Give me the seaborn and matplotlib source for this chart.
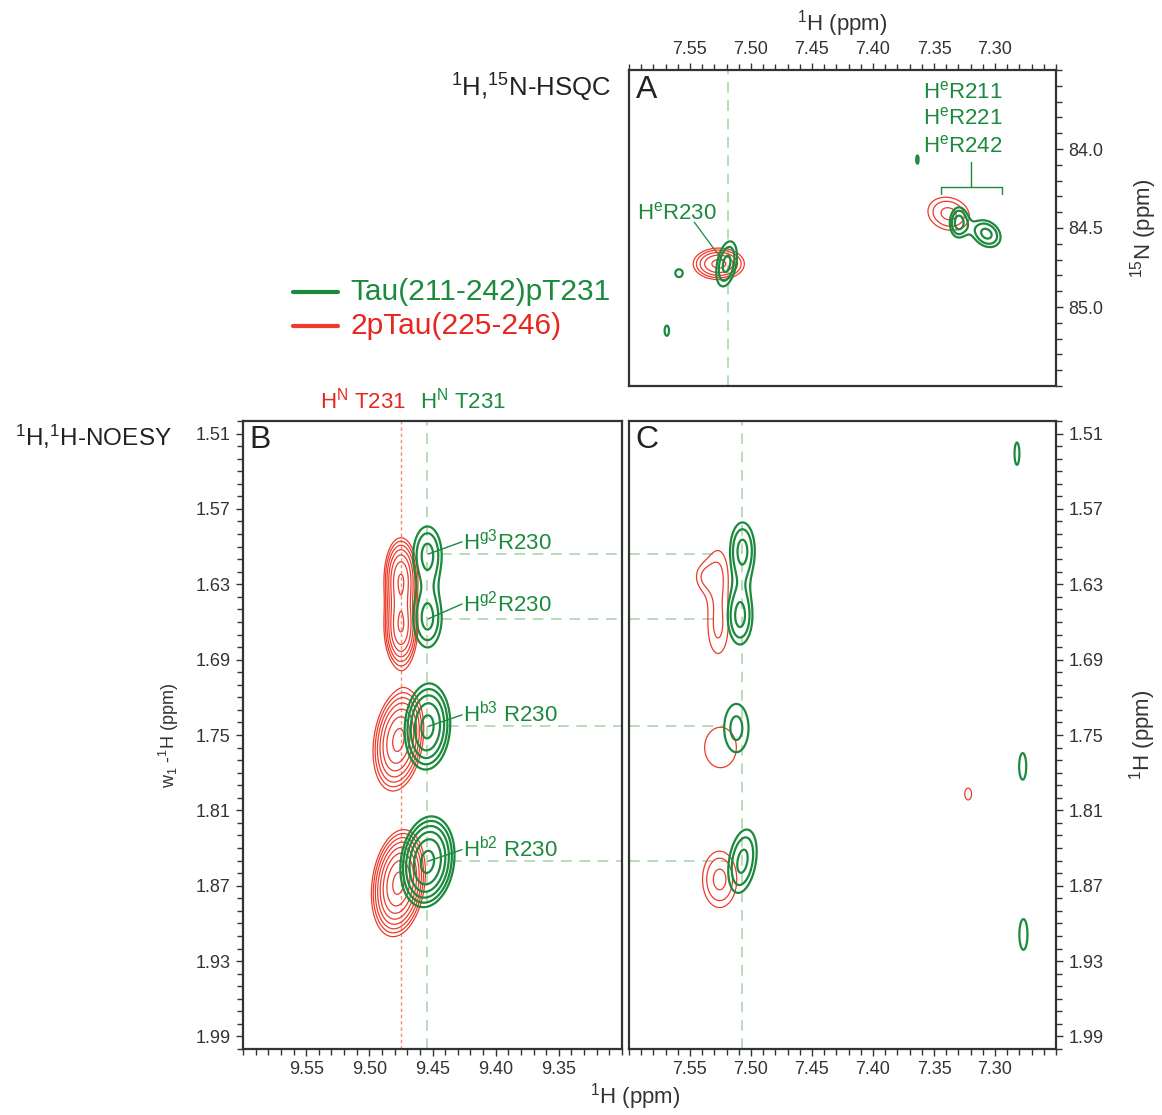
import numpy as np
import pandas as pd
import matplotlib
matplotlib.use("Agg")
import matplotlib.pyplot as plt
from matplotlib.ticker import MultipleLocator, FixedLocator, FormatStrFormatter
import seaborn as sns

# ---------------- contour levels (units of the lowest level) ----------------
CONTOUR_FACTOR = 1.35
N_LEVELS = 12

# ---------------- Panel A : 1H,15N-HSQC  (x: 1H ppm, y: 15N ppm) ----------------
A_green_h   = [7.520, 7.330, 7.307, 7.559, 7.569, 7.3636]
A_green_n   = [84.727, 84.463, 84.536, 84.786, 85.150, 84.067]
A_green_lwh = [0.0072, 0.0059, 0.0098, 0.0050, 0.0030, 0.0016]
A_green_lwn = [0.121, 0.078, 0.072, 0.041, 0.053, 0.043]
A_green_int = [2.0, 2.0, 2.0, 1.2, 1.2, 1.2]
A_green_rho = [0.35, 0.05, -0.25, 0.0, 0.0, 0.0]

A_red_h   = [7.5264, 7.338]
A_red_n   = [84.727, 84.410]
A_red_lwh = [0.013, 0.0144]
A_red_lwn = [0.062, 0.089]
A_red_int = [3.65, 2.0]
A_red_rho = [0.0, -0.15]

# ---------------- Panel B : NOESY, HN T231 strip (x: 1H ppm, y: w1-1H ppm) ----------------
B_green_h   = [9.454, 9.454, 9.454, 9.454]
B_green_w1  = [1.606, 1.6576, 1.7435, 1.851]
B_green_lwh = [0.0094, 0.0094, 0.0112, 0.0120]
B_green_lww = [0.0187, 0.0187, 0.0211, 0.0202]
B_green_int = [2.0, 2.0, 3.65, 4.93]
B_green_rho = [0.0, 0.0, 0.08, 0.15]

B_red_h   = [9.475, 9.475, 9.477, 9.477]
B_red_w1  = [1.625, 1.665, 1.754, 1.868]
B_red_lwh = [0.0070, 0.0070, 0.0103, 0.0102]
B_red_lww = [0.0170, 0.0170, 0.0208, 0.0203]
B_red_int = [5.9, 5.9, 6.66, 8.99]
B_red_rho = [0.0, 0.0, 0.22, 0.2]

# ---------------- Panel C : NOESY, He R230 strip ----------------
C_green_h   = [7.507, 7.509, 7.512, 7.507, 7.282, 7.2773, 7.2767]
C_green_w1  = [1.6028, 1.6557, 1.7445, 1.8505, 1.526, 1.775, 1.9088]
C_green_lwh = [0.0085, 0.0085, 0.0112, 0.0099, 0.0033, 0.0048, 0.0055]
C_green_lww = [0.0187, 0.0187, 0.0216, 0.0214, 0.0147, 0.0175, 0.0202]
C_green_int = [2.0, 2.0, 1.485, 2.0, 1.2, 1.2, 1.2]
C_green_rho = [0.0, 0.0, 0.0, 0.3, 0.0, 0.0, 0.0]

C_red_h   = [7.527, 7.527, 7.541, 7.525, 7.5257, 7.322]
C_red_w1  = [1.620, 1.668, 1.624, 1.760, 1.865, 1.797]
C_red_lwh = [0.0095, 0.0095, 0.0070, 0.0215, 0.0119, 0.0046]
C_red_lww = [0.022, 0.022, 0.010, 0.0265, 0.019, 0.0078]
C_red_int = [1.3, 1.3, 0.85, 1.2, 2.0, 1.2]
C_red_rho = [0.0, 0.0, 0.0, 0.0, 0.0, 0.0]

# ---------------- axes ticks / ranges ----------------
A_xlim = (7.60, 7.25)
A_ylim = (85.5, 83.5)
B_xlim = (9.60, 9.30)
NOESY_ylim = (2.00, 1.50)
A_xticks = [7.55, 7.50, 7.45, 7.40, 7.35, 7.30]
A_yticks = [84.0, 84.5, 85.0]
B_xticks = [9.55, 9.50, 9.45, 9.40, 9.35]
NOESY_yticks = [1.51, 1.57, 1.63, 1.69, 1.75, 1.81, 1.87, 1.93, 1.99]

# ---------------- annotations ----------------
A_label_lines = [r"H$^{\rm e}$R211", r"H$^{\rm e}$R221", r"H$^{\rm e}$R242"]
A_label_n = [83.64, 83.805, 83.982]
B_labels = [r"H$^{\rm g3}$R230", r"H$^{\rm g2}$R230", r"H$^{\rm b3}$ R230", r"H$^{\rm b2}$ R230"]
B_label_w1 = [1.5962, 1.6457, 1.734, 1.8413]
B_guide_start = [9.443, 9.443, 9.438, 9.435]
C_guide_end = [7.525, 7.525, 7.522, 7.520]
B_guide_w1 = [1.606, 1.6576, 1.7432, 1.8505]
legend_names = ["Tau(211-242)pT231", "2pTau(225-246)"]

GREEN = "#1b8a3d"
RED = "#ee3a2a"
RED_TXT = "#e8261e"
DASH_GREEN = "#a3d3a3"
DASH_RED = "#f0907c"
DARK = "#333333"

sns.set_theme(style="white")
plt.rcParams['font.family'] = ['Liberation Sans', 'DejaVu Sans']
plt.rcParams['mathtext.fontset'] = 'custom'
plt.rcParams['mathtext.rm'] = 'Liberation Sans'
plt.rcParams['mathtext.it'] = 'Liberation Sans:italic'
plt.rcParams['mathtext.bf'] = 'Liberation Sans:bold'

LEVELS = CONTOUR_FACTOR ** np.arange(N_LEVELS)

W, H = 1162, 1115
fig = plt.figure(figsize=(W / 100, H / 100), dpi=100)


def box(l, t, r, b):
    return [l / W, 1 - b / H, (r - l) / W, (b - t) / H]


ov = fig.add_axes([0, 0, 1, 1])
ov.set_xlim(0, W)
ov.set_ylim(H, 0)
ov.axis("off")

axA = fig.add_axes(box(629, 70, 1056, 386))
axB = fig.add_axes(box(243, 421, 622, 1049))
axC = fig.add_axes(box(629, 421, 1056, 1049))


def draw_spectrum(ax, xs, ys, wx, wy, amp, rho, color, lw, xlim, ylim, nx=900, ny=900):
    gx = np.linspace(min(xlim), max(xlim), nx)
    gy = np.linspace(min(ylim), max(ylim), ny)
    X, Y = np.meshgrid(gx, gy)
    Z = np.zeros_like(X)
    for x0, y0, sx, sy, a, r in zip(xs, ys, wx, wy, amp, rho):
        u = (X - x0) / sx
        v = (Y - y0) / sy
        Z += a * np.exp(-(u * u - 2 * r * u * v + v * v) / (2 * (1 - r * r)))
    ax.contour(X, Y, Z, levels=LEVELS, colors=color, linewidths=lw, zorder=3)


def style_axes(ax, xlim, ylim, xticks, yticks, xminor, yminor, xside, yside, yfmt):
    ax.set_xlim(*xlim)
    ax.set_ylim(*ylim)
    ax.set_facecolor("white")
    for s in ax.spines.values():
        s.set_visible(True)
        s.set_color(DARK)
        s.set_linewidth(1.6)
    ax.xaxis.set_major_locator(FixedLocator(xticks))
    ax.xaxis.set_minor_locator(MultipleLocator(xminor))
    ax.xaxis.set_major_formatter(FormatStrFormatter("%.2f"))
    ax.yaxis.set_major_locator(FixedLocator(yticks))
    ax.yaxis.set_minor_locator(MultipleLocator(yminor))
    ax.yaxis.set_major_formatter(FormatStrFormatter(yfmt))
    ax.tick_params(axis="x", which="both", direction="out", color=DARK,
                   top=(xside == "top"), bottom=(xside == "bottom"),
                   labeltop=(xside == "top"), labelbottom=(xside == "bottom"),
                   labelsize=13, labelcolor=DARK, pad=4, width=1.0)
    ax.tick_params(axis="y", which="both", direction="out", color=DARK,
                   left=(yside == "left"), right=(yside == "right"),
                   labelleft=(yside == "left"), labelright=(yside == "right"),
                   labelsize=13, labelcolor=DARK, pad=4, width=1.0)
    ax.tick_params(which="major", length=5)
    ax.tick_params(which="minor", length=4)
    ax.grid(False)


style_axes(axA, A_xlim, A_ylim, A_xticks, A_yticks, 0.01, 0.1, "top", "right", "%.1f")
style_axes(axB, B_xlim, NOESY_ylim, B_xticks, NOESY_yticks, 0.01, 0.01, "bottom", "left", "%.2f")
style_axes(axC, A_xlim, NOESY_ylim, A_xticks, NOESY_yticks, 0.01, 0.01, "bottom", "right", "%.2f")

# axis labels
axA.xaxis.set_label_position("top")
axA.set_xlabel(r"$^1$H (ppm)", fontsize=16, color=DARK, labelpad=7)
axA.yaxis.set_label_position("right")
axA.set_ylabel(r"$^{15}$N (ppm)", fontsize=16, color=DARK, rotation=90, labelpad=18)
axB.set_ylabel(r"w$_1$ -$^1$H (ppm)", fontsize=13, color=DARK, labelpad=10)
axC.yaxis.set_label_position("right")
axC.set_ylabel(r"$^1$H (ppm)", fontsize=16, color=DARK, rotation=90, labelpad=17)

# guide lines (drawn below contours)
axA.axvline(7.519, color=DASH_GREEN, lw=1.1, ls=(0, (7, 5)), zorder=1)
axB.axvline(9.475, color=DASH_RED, lw=1.0, ls=(0, (2.5, 2)), zorder=1)
axB.axvline(9.454, color=DASH_GREEN, lw=1.1, ls=(0, (7, 5)), zorder=1)
axC.axvline(7.507, color=DASH_GREEN, lw=1.1, ls=(0, (7, 5)), zorder=1)
for xs, yv in zip(B_guide_start, B_guide_w1):
    sns.lineplot(x=[xs, B_xlim[1]], y=[yv, yv], ax=axB, color=DASH_GREEN, lw=1.1,
                 linestyle=(0, (7, 5)), estimator=None, sort=False, legend=False, zorder=1)
for xe, yv in zip(C_guide_end, B_guide_w1):
    sns.lineplot(x=[A_xlim[0], xe], y=[yv, yv], ax=axC, color=DASH_GREEN, lw=1.1,
                 linestyle=(0, (7, 5)), estimator=None, sort=False, legend=False, zorder=1)

# spectra: red first, green on top
draw_spectrum(axA, A_red_h, A_red_n, A_red_lwh, A_red_lwn, A_red_int, A_red_rho, RED, 0.9, A_xlim, A_ylim, 1000, 800)
draw_spectrum(axA, A_green_h, A_green_n, A_green_lwh, A_green_lwn, A_green_int, A_green_rho, GREEN, 1.6, A_xlim, A_ylim, 1000, 800)
draw_spectrum(axB, B_red_h, B_red_w1, B_red_lwh, B_red_lww, B_red_int, B_red_rho, RED, 0.9, B_xlim, NOESY_ylim)
draw_spectrum(axB, B_green_h, B_green_w1, B_green_lwh, B_green_lww, B_green_int, B_green_rho, GREEN, 1.6, B_xlim, NOESY_ylim)
draw_spectrum(axC, C_red_h, C_red_w1, C_red_lwh, C_red_lww, C_red_int, C_red_rho, RED, 0.9, A_xlim, NOESY_ylim)
draw_spectrum(axC, C_green_h, C_green_w1, C_green_lwh, C_green_lww, C_green_int, C_green_rho, GREEN, 1.6, A_xlim, NOESY_ylim)

# panel letters
for ax, letter in [(axA, "A"), (axB, "B"), (axC, "C")]:
    ax.text(0.016, 0.985 if ax is axA else 0.993, letter, transform=ax.transAxes,
            ha="left", va="top", fontsize=23, color="#222222")

# Panel A annotations
for txt, yv in zip(A_label_lines, A_label_n):
    axA.text(7.3265, yv, txt, ha="center", va="center", fontsize=16, color=GREEN)
sns.lineplot(x=[7.3197, 7.3197], y=[84.084, 84.24], ax=axA, color=GREEN, lw=1.0,
             estimator=None, sort=False, legend=False)
sns.lineplot(x=[7.3446, 7.3446, 7.2944, 7.2944], y=[84.287, 84.24, 84.24, 84.287], ax=axA,
             color=GREEN, lw=1.0, estimator=None, sort=False, legend=False)
axA.text(7.5937, 84.407, r"H$^{\rm e}$R230", ha="left", va="center", fontsize=16, color=GREEN)
sns.lineplot(x=[7.5465, 7.5223], y=[84.463, 84.716], ax=axA, color=GREEN, lw=0.9,
             estimator=None, sort=False, legend=False)

# Panel B annotations
for lab, yl, yp in zip(B_labels, B_label_w1, B_guide_w1):
    sns.lineplot(x=[9.4535, 9.4267], y=[yp, yl], ax=axB, color=GREEN, lw=1.0,
                 estimator=None, sort=False, legend=False, zorder=4)
    axB.text(9.4255, yl, lab, ha="left", va="center", fontsize=16, color=GREEN, zorder=5)
axB.text(9.471, 1.0 + 0.012, r"H$^{\rm N}$ T231", transform=axB.get_xaxis_transform(),
         ha="right", va="bottom", fontsize=16, color=RED_TXT)
axB.text(9.460, 1.0 + 0.012, r"H$^{\rm N}$ T231", transform=axB.get_xaxis_transform(),
         ha="left", va="bottom", fontsize=16, color=GREEN)

# titles and legend (figure overlay in pixel space)
ov.text(611, 88, r"$^1$H,$^{15}$N-HSQC", ha="right", va="center", fontsize=18.5, color="#222222")
ov.text(15, 437, r"$^1$H,$^1$H-NOESY", ha="left", va="center", fontsize=17.5, color="#222222")
ov.text(635, 1097, r"$^1$H (ppm)", ha="center", va="center", fontsize=16, color=DARK)
for i, (name, col, tcol) in enumerate(zip(legend_names, [GREEN, RED], [GREEN, RED_TXT])):
    yy = 292 + 34 * i
    sns.lineplot(x=[293, 338], y=[yy, yy], ax=ov, color=col, lw=3.0,
                 estimator=None, sort=False, legend=False)
    ov.text(350, yy, name, ha="left", va="center", fontsize=21.5, color=tcol)
ov.set_xlim(0, W)
ov.set_ylim(H, 0)
ov.axis("off")

fig.savefig("out.png", dpi=100)
